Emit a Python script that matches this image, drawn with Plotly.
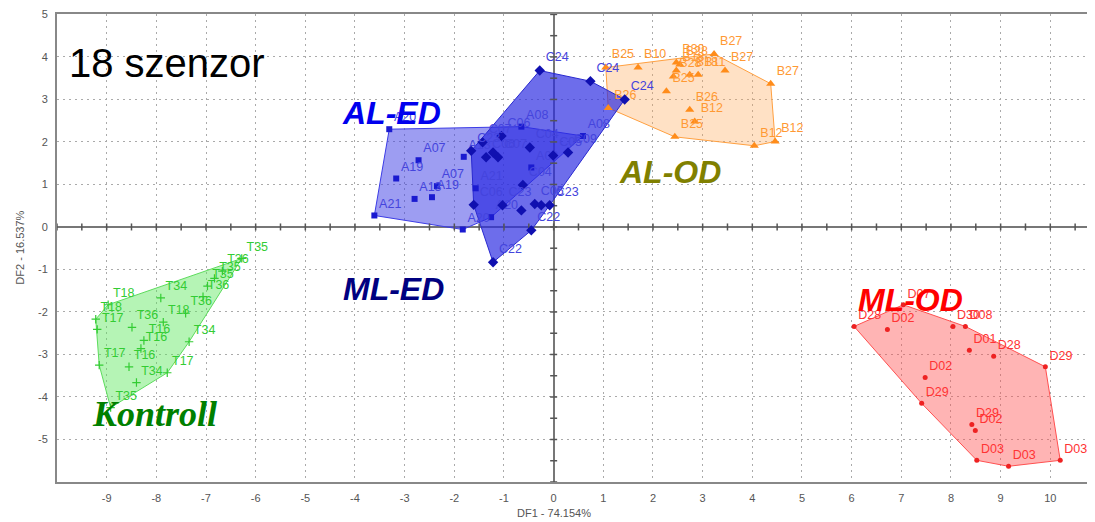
import numpy as np
import plotly.graph_objects as go

# ---------------- data ----------------
A_X = [-3.61, -3.31, -2.72, -3.17, -2.35, -2.45, -2.80, -1.83, -1.81, -1.57, -1.26, -0.65, 0.59, -0.45]
A_Y = [0.27, 2.30, 1.57, 1.14, 0.96, 0.70, 0.66, -0.06, 1.65, 0.91, 0.23, 2.36, 2.14, 1.40]
A_LAB = ["A21", "A20", "A07", "A19", "A07", "A19", "A13", "A20", "A13", "A21", "A20", "A08", "A08", "A08"]

C_X = [-0.28, 0.74, 1.43, -1.22, -0.45, -1.61, -1.03, -0.65, -0.38, -0.25, -0.08, -0.62, -0.48, -0.01, 0.29, -1.43, -1.05, -1.66, -1.36, -1.12, -1.22]
C_Y = [3.68, 3.43, 3.00, -0.83, -0.08, 0.52, 0.51, 0.39, 0.54, 0.51, 0.51, 0.99, 1.87, 1.68, 1.75, 1.99, 2.14, 1.79, 1.64, 1.64, 1.75]
C_LAB = ["C24", "C24", "C24", "C22", "C22", "C06", "C23", "", "C05", "", "C23", "C04", "C04", "C05", "C09", "C07", "C06", "C23", "C06", "C07", ""]

B_X = [1.05, 1.70, 2.47, 2.54, 2.47, 2.41, 2.74, 2.91, 3.23, 3.45, 4.37, 4.46, 4.04, 2.44, 2.84, 2.74, 2.27, 1.10]
B_Y = [3.75, 3.75, 3.87, 3.82, 3.68, 3.54, 3.58, 3.58, 4.07, 3.68, 3.37, 2.01, 1.91, 2.12, 2.48, 2.76, 3.19, 2.80]
B_LAB = ["B25", "B10", "B30", "B28", "B18", "B28", "B18", "B11", "B27", "B27", "B27", "B12", "B12", "B25", "B12", "B26", "B25", "B26"]

T_X = [-6.28, -6.67, -6.83, -6.97, -7.06, -7.91, -8.97, -9.22, -9.19, -8.49, -7.86, -7.41, -8.25, -8.31, -7.34, -9.15, -8.55, -7.78, -8.40, -8.92]
T_Y = [-0.74, -1.04, -1.21, -1.39, -1.64, -1.67, -1.83, -2.17, -2.41, -2.36, -2.24, -2.03, -2.67, -2.86, -2.70, -3.25, -3.29, -3.43, -3.66, -4.25]
T_LAB = ["T35", "T36", "T35", "T35", "T36", "T34", "T18", "T18", "T17", "T36", "T18", "T36", "T16", "T16", "T34", "T17", "T16", "T17", "T34", "T35"]

D_X = [6.05, 7.04, 6.72, 8.04, 8.29, 8.37, 8.86, 9.90, 10.20, 9.16, 8.52, 8.42, 8.49, 7.41, 7.48]
D_Y = [-2.34, -1.83, -2.41, -2.34, -2.34, -2.90, -3.04, -3.29, -5.49, -5.63, -5.49, -4.65, -4.79, -4.15, -3.54]
D_LAB = ["D28", "D07", "D02", "D30", "D08", "D01", "D28", "D29", "D03", "D03", "D03", "D29", "D02", "D29", "D02"]

X_TICKS = list(range(-9, 11))
X_TICK_LABELS = [str(v) for v in X_TICKS]
Y_TICKS = list(range(-5, 6))
Y_TICK_LABELS = [str(v) for v in Y_TICKS]


def hull(xs, ys):
    pts = sorted(set(zip(xs, ys)))
    def cross(o, a, b):
        return (a[0] - o[0]) * (b[1] - o[1]) - (a[1] - o[1]) * (b[0] - o[0])
    lower, upper = [], []
    for p in pts:
        while len(lower) >= 2 and cross(lower[-2], lower[-1], p) <= 0:
            lower.pop()
        lower.append(p)
    for p in reversed(pts):
        while len(upper) >= 2 and cross(upper[-2], upper[-1], p) <= 0:
            upper.pop()
        upper.append(p)
    h = lower[:-1] + upper[:-1]
    h.append(h[0])
    return [p[0] for p in h], [p[1] for p in h]


fig = go.Figure()

groups = [
    # xs, ys, labels, fill, edge, marker color, symbol, size, text color
    (B_X, B_Y, B_LAB, "rgba(255,170,90,0.35)", "#ffa040", "#ff8c1a", "triangle-up", 8, "#ff9933"),
    (T_X, T_Y, T_LAB, "rgba(90,230,90,0.45)", "#5ddc5d", "#33cc33", "cross-thin-open", 6, "#33cc33"),
    (D_X, D_Y, D_LAB, "rgba(255,80,80,0.43)", "#ff5050", "#ee2222", "circle", 5, "#ff3333"),
    (A_X, A_Y, A_LAB, "rgba(60,60,230,0.5)", "#3c3ce6", "#1a1ad0", "square", 6, "#4444dd"),
    (C_X, C_Y, C_LAB, "rgba(40,40,225,0.68)", "#2828d0", "#1010b0", "diamond", 8, "#4444dd"),
]

# polygons first
for xs, ys, labs, fill, edge, mc, sym, sz, tc in groups:
    hx, hy = hull(xs, ys)
    fig.add_trace(go.Scatter(x=hx, y=hy, mode="lines", fill="toself", fillcolor=fill,
                             line=dict(color=edge, width=1), hoverinfo="skip", showlegend=False))

# axis tick marks on zero lines
tx = np.arange(-10, 11.01, 0.5)
ty = np.arange(-6, 5.01, 0.5)
fig.add_trace(go.Scatter(x=tx, y=np.zeros(len(tx)), mode="markers",
                         marker=dict(symbol="line-ns-open", size=5, color="#555",
                                     line=dict(color="#555", width=1.5)),
                         hoverinfo="skip", showlegend=False))
fig.add_trace(go.Scatter(y=ty, x=np.zeros(len(ty)), mode="markers",
                         marker=dict(symbol="line-ew-open", size=5, color="#555",
                                     line=dict(color="#555", width=1.5)),
                         hoverinfo="skip", showlegend=False))

# markers and labels
for xs, ys, labs, fill, edge, mc, sym, sz, tc in groups:
    if "open" in sym:
        marker = dict(symbol=sym, size=sz, color=mc, line=dict(color=mc, width=1.2))
    else:
        marker = dict(symbol=sym, size=sz, color=mc, line=dict(width=0))
    fig.add_trace(go.Scatter(x=xs, y=ys, mode="markers+text", text=labs,
                             textposition="top right",
                             textfont=dict(family="Liberation Sans, Arial", size=12.5, color=tc),
                             marker=marker, showlegend=False))

big = dict(family="Liberation Sans, Arial", size=32, weight="bold", style="italic")
annotations = [
    dict(x=-9.80, y=3.86, text="18 szenzor", xanchor="left", yanchor="middle",
         font=dict(family="Liberation Sans, Arial", size=40, color="black")),
    dict(x=-3.27, y=2.69, text="AL-ED", font=dict(big, color="#0000ee")),
    dict(x=2.34, y=1.29, text="AL-OD", font=dict(big, color="#808000")),
    dict(x=-3.23, y=-1.45, text="ML-ED", font=dict(big, color="#000080")),
    dict(x=7.18, y=-1.71, text="ML-OD", font=dict(big, color="#ff0000")),
    dict(x=-8.04, y=-4.39, text="Kontroll",
         font=dict(family="Liberation Serif, Times New Roman", size=36, weight="bold",
                   style="italic", color="#008000")),
    dict(xref="x", yref="paper", x=0, y=-0.066, text="DF1 - 74.154%", yanchor="middle",
         font=dict(family="Liberation Sans, Arial", size=11, color="#555")),
    dict(xref="paper", yref="paper", x=-0.036, y=0.5, text="DF2 - 16.537%", textangle=-90,
         xanchor="center", yanchor="middle",
         font=dict(family="Liberation Sans, Arial", size=11, color="#555")),
]
for a in annotations:
    a.setdefault("showarrow", False)
    a.setdefault("xanchor", "center")
    a.setdefault("yanchor", "middle")

# page body has an 8px default margin: size/margins compensate for it
fig.update_layout(
    width=1087, height=514,
    margin=dict(l=49, r=0, t=3, b=40),
    paper_bgcolor="white", plot_bgcolor="white",
    annotations=annotations,
    xaxis=dict(range=[-10, 10.9], tickvals=X_TICKS, ticktext=X_TICK_LABELS,
               showgrid=True, gridcolor="#aaaaaa", griddash="2px,4px", gridwidth=1,
               zeroline=True, zerolinecolor="#777", zerolinewidth=1.5,
               showline=True, linecolor="#888", linewidth=2, mirror=True,
               ticks="outside", ticklen=5, tickcolor="rgba(0,0,0,0)",
               tickfont=dict(family="Liberation Sans, Arial", size=11, color="#555")),
    yaxis=dict(range=[-6, 5.01], tickvals=Y_TICKS, ticktext=Y_TICK_LABELS,
               showgrid=True, gridcolor="#aaaaaa", griddash="2px,4px", gridwidth=1,
               zeroline=True, zerolinecolor="#777", zerolinewidth=1.5,
               showline=True, linecolor="#888", linewidth=2, mirror=False,
               ticks="outside", ticklen=5, tickcolor="rgba(0,0,0,0)",
               ticklabeloverflow="allow",
               tickfont=dict(family="Liberation Sans, Arial", size=11, color="#555")),
)

fig.write_html("out.html")
